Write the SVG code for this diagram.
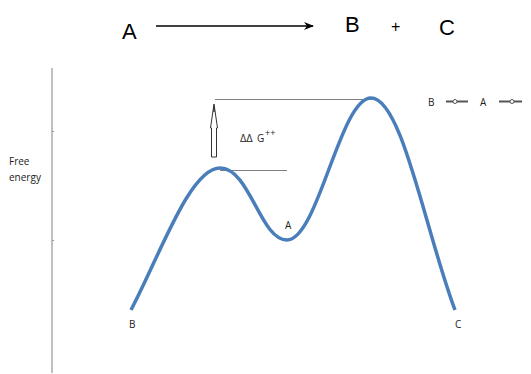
<svg xmlns="http://www.w3.org/2000/svg" width="531" height="374" viewBox="0 0 531 374">
<style>
.t{font-family:"Liberation Sans",Arial,sans-serif;fill:#000}
.s{font-family:"Open Sans","DejaVu Sans",sans-serif;fill:#222}
.guide{stroke:#808080;stroke-width:1;fill:none}
</style>
<defs>
<marker id="ah" markerWidth="10" markerHeight="8" refX="9" refY="4" orient="auto" markerUnits="userSpaceOnUse">
<path d="M0,0 L10,4 L0,8 L3,4 Z" fill="#000"/>
</marker>
</defs>
<rect width="531" height="374" fill="#fff"/>
<g id="equation">
<text class="t" x="122" y="39" font-size="22">A</text>
<text class="t" x="345" y="32" font-size="22">B</text>
<text class="t" x="391" y="32" font-size="16">+</text>
<text class="t" x="439" y="35" font-size="22">C</text>
</g>
<g id="connectors">
<line x1="156" y1="26" x2="313" y2="26" stroke="#000" stroke-width="1.5" marker-end="url(#ah)"/>
<line class="guide" x1="215" y1="99.5" x2="371" y2="99.5"/>
<line class="guide" x1="220" y1="170.5" x2="287" y2="170.5"/>
<path d="M214,104 L210.5,128 L211.5,128 L211.5,157 L216.5,157 L216.5,128 L217.5,128 Z" fill="#fff" stroke="#333" stroke-width="1"/>
<line x1="214" y1="106" x2="214" y2="112" stroke="#333" stroke-width="1.5"/>
</g>
<g id="axis">
<line x1="52" y1="68" x2="52" y2="373" stroke="#c0c0c0" stroke-width="2"/>
<line x1="52" y1="131.5" x2="54" y2="131.5" stroke="#999" stroke-width="1"/>
<line x1="52" y1="240.5" x2="54" y2="240.5" stroke="#999" stroke-width="1"/>
<text class="s" x="9" y="165" font-size="10">Free</text>
<text class="s" x="9" y="181" font-size="10">energy</text>
</g>
<g id="curve">
<path d="M131,310 C160,255 190,168 220,168 C250,168 260,240 287,240 C318,240 340,98 371,98 C402,98 425,230 455,310" fill="none" stroke="#4a7ebb" stroke-width="3.5"/>
</g>
<g id="labels">
<text class="s" x="240" y="142" font-size="11">ΔΔ</text>
<text class="s" x="257" y="142" font-size="10">G</text>
<text class="s" x="265" y="136" font-size="9">++</text>
<text class="s" x="285" y="229" font-size="10">A</text>
<text class="s" x="129" y="328" font-size="10">B</text>
<text class="s" x="455" y="328" font-size="10">C</text>
</g>
<g id="legend">
<text class="s" x="428" y="106" font-size="10">B</text>
<line x1="446" y1="101.5" x2="468" y2="101.5" stroke="#555" stroke-width="2"/>
<circle cx="455" cy="101.5" r="2" fill="#fff" stroke="#555" stroke-width="1"/>
<text class="s" x="480" y="106" font-size="10">A</text>
<line x1="499" y1="101.5" x2="522" y2="101.5" stroke="#555" stroke-width="2"/>
<circle cx="512" cy="101.5" r="2" fill="#fff" stroke="#555" stroke-width="1"/>
</g>
</svg>
